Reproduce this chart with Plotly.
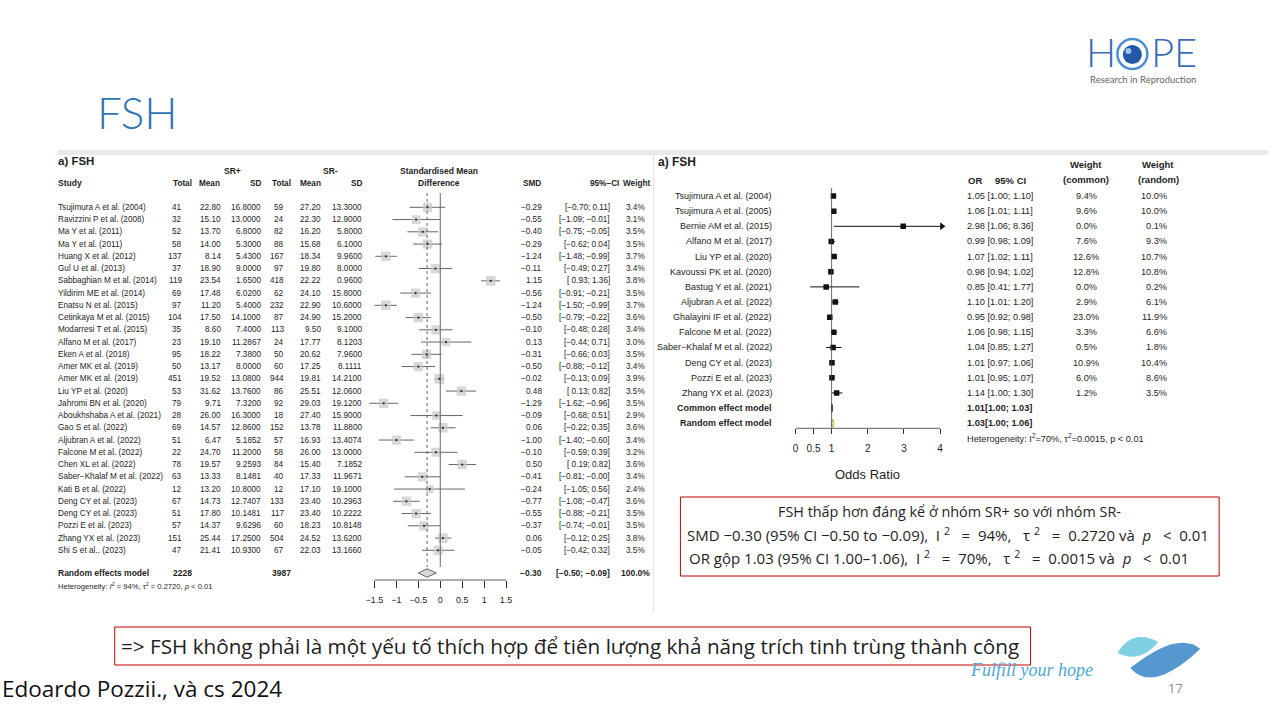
import plotly.graph_objects as go

# ---------------- data: left panel (standardised mean difference) ----------------
studies_smd = [
    "Tsujimura A et al. (2004)", "Ravizzini P et al. (2008)", "Ma Y et al. (2011)", "Ma Y et al. (2011)",
    "Huang X et al. (2012)", "Gul U et al. (2013)", "Sabbaghian M et al. (2014)", "Yildirim ME et al. (2014)",
    "Enatsu N et al. (2015)", "Cetinkaya M et al. (2015)", "Modarresi T et al. (2015)", "Alfano M et al. (2017)",
    "Eken A et al. (2018)", "Amer MK et al. (2019)", "Amer MK et al. (2019)", "Liu YP et al. (2020)",
    "Jahromi BN et al. (2020)", "Aboukhshaba A et al. (2021)", "Gao S et al. (2022)", "Aljubran A et al. (2022)",
    "Falcone M et al. (2022)", "Chen XL et al. (2022)", "Saber\u2212Khalaf M et al. (2022)", "Kati B et al. (2022)",
    "Deng CY et al. (2023)", "Deng CY et al. (2023)", "Pozzi E et al. (2023)", "Zhang YX et al. (2023)",
    "Shi S et al.. (2023)",
]
n_pos = [41, 32, 52, 58, 137, 37, 119, 69, 97, 104, 35, 23, 95, 50, 451, 53, 79, 28, 69, 51, 22, 78, 63, 12, 67, 51, 57, 151, 47]
mean_pos = [22.80, 15.10, 13.70, 14.00, 8.14, 18.90, 23.54, 17.48, 11.20, 17.50, 8.60, 19.10, 18.22, 13.17, 19.52,
            31.62, 9.71, 26.00, 14.57, 6.47, 24.70, 19.57, 13.33, 13.20, 14.73, 17.80, 14.37, 25.44, 21.41]
sd_pos = [16.8, 13.0, 6.8, 5.3, 5.43, 9.0, 1.65, 6.02, 5.4, 14.1, 7.4, 11.2867, 7.38, 8.0, 13.08,
          13.76, 7.32, 16.3, 12.86, 5.1852, 11.2, 9.2593, 8.1481, 10.8, 12.7407, 10.1481, 9.6296, 17.25, 10.93]
n_neg = [59, 24, 82, 88, 167, 97, 418, 62, 232, 87, 113, 24, 50, 60, 944, 86, 92, 18, 152, 57, 58, 84, 40, 12, 133, 117, 60, 504, 67]
mean_neg = [27.20, 22.30, 16.20, 15.68, 18.34, 19.80, 22.22, 24.10, 22.90, 24.90, 9.50, 17.77, 20.62, 17.25, 19.81,
            25.51, 29.03, 27.40, 13.78, 16.93, 26.00, 15.40, 17.33, 17.10, 23.40, 23.40, 18.23, 24.52, 22.03]
sd_neg = [13.3, 12.9, 5.8, 6.1, 9.96, 8.0, 0.96, 15.8, 10.6, 15.2, 9.1, 8.1203, 7.96, 8.1111, 14.21,
          12.06, 19.12, 15.9, 11.88, 13.4074, 13.0, 7.1852, 11.9671, 19.1, 10.2963, 10.2222, 10.8148, 13.62, 13.166]
smd = [-0.29, -0.55, -0.40, -0.29, -1.24, -0.11, 1.15, -0.56, -1.24, -0.50, -0.10, 0.13, -0.31, -0.50, -0.02,
       0.48, -1.29, -0.09, 0.06, -1.00, -0.10, 0.50, -0.41, -0.24, -0.77, -0.55, -0.37, 0.06, -0.05]
smd_lo = [-0.70, -1.09, -0.75, -0.62, -1.48, -0.49, 0.93, -0.91, -1.50, -0.79, -0.48, -0.44, -0.66, -0.88, -0.13,
          0.13, -1.62, -0.68, -0.22, -1.40, -0.59, 0.19, -0.81, -1.05, -1.08, -0.88, -0.74, -0.12, -0.42]
smd_hi = [0.11, -0.01, -0.05, 0.04, -0.99, 0.27, 1.36, -0.21, -0.99, -0.22, 0.28, 0.71, 0.03, -0.12, 0.09,
          0.82, -0.96, 0.51, 0.35, -0.60, 0.39, 0.82, -0.0, 0.56, -0.47, -0.21, -0.01, 0.25, 0.32]
smd_weight = [3.4, 3.1, 3.5, 3.5, 3.7, 3.4, 3.8, 3.5, 3.7, 3.6, 3.4, 3.0, 3.5, 3.4, 3.9,
              3.5, 3.5, 2.9, 3.6, 3.4, 3.2, 3.6, 3.4, 2.4, 3.6, 3.5, 3.5, 3.8, 3.5]
smd_pooled = [-0.30, -0.50, -0.09]     # estimate, lower, upper
smd_pooled_weight = 100.0
total_pos, total_neg = 2228, 3987
smd_ticks = [-1.5, -1, -0.5, 0, 0.5, 1, 1.5]

# ---------------- data: right panel (odds ratio) ----------------
studies_or = [
    "Tsujimura A et al. (2004)", "Tsujimura A et al. (2005)", "Bernie AM et al. (2015)", "Alfano M et al. (2017)",
    "Liu YP et al. (2020)", "Kavoussi PK et al. (2020)", "Bastug Y et al. (2021)", "Aljubran A et al. (2022)",
    "Ghalayini IF et al. (2022)", "Falcone M et al. (2022)", "Saber\u2212Khalaf M et al. (2022)",
    "Deng CY et al. (2023)", "Pozzi E et al. (2023)", "Zhang YX et al. (2023)",
]
or_est = [1.05, 1.06, 2.98, 0.99, 1.07, 0.98, 0.85, 1.10, 0.95, 1.06, 1.04, 1.01, 1.01, 1.14]
or_lo = [1.00, 1.01, 1.06, 0.98, 1.02, 0.94, 0.41, 1.01, 0.92, 0.98, 0.85, 0.97, 0.95, 1.00]
or_hi = [1.10, 1.11, 8.36, 1.09, 1.11, 1.02, 1.77, 1.20, 0.98, 1.15, 1.27, 1.06, 1.07, 1.30]
w_common = [9.4, 9.6, 0.0, 7.6, 12.6, 12.8, 0.0, 2.9, 23.0, 3.3, 0.5, 10.9, 6.0, 1.2]
w_random = [10.0, 10.0, 0.1, 9.3, 10.7, 10.8, 0.2, 6.1, 11.9, 6.6, 1.8, 10.4, 8.6, 3.5]
or_common = [1.01, 1.00, 1.03]
or_random = [1.03, 1.00, 1.06]
or_ticks = [0, 0.5, 1, 2, 3, 4]

# ---------------- layout constants (pixels) ----------------
W, H = 1280, 720
TAB = "Liberation Sans, Arial, sans-serif"
SLIDE = "Open Sans, Noto Sans, sans-serif"
TXT = "#1e1e1e"
NB = "&nbsp;"

L_ROW0, L_DY = 207.3, 12.25
L_TOP, L_BOT = 193.0, 580.0
L_X0, L_PXU, L_XR = 438.3, 44.0, [-2.0, 2.0]
L_POOL_PX = 573.0

R_ROW0, R_DY = 196.0, 15.15
R_TOP, R_BOT = 188.0, 428.3
R_X0, R_PXU, R_XR = 794.3, 36.25, [0.0, 4.2]
R_CAP = 4.05
R_COMMON_ROW, R_RANDOM_ROW = 14, 15


def fx(x):
    return x / W


def fy(y):
    return 1 - y / H


def lrow(i):
    return L_ROW0 + L_DY * i


def rrow(i):
    return R_ROW0 + R_DY * i


def mfmt(v, d=2):
    return f"{v:.{d}f}".replace("-", "\u2212")


annotations = []


def ann(text, x, y, size, xanchor="left", bold=False, color=TXT, family=TAB, italic=False, weight=None, dx=-3,
        height=None):
    f = dict(size=size, color=color, family=family)
    if weight is not None:
        f["weight"] = weight
    if italic:
        f["style"] = "italic"
    if bold:
        text = f"<b>{text}</b>"
    if xanchor == "left":
        x = x + dx
    a = dict(text=text, x=fx(x), y=fy(y), xref="paper", yref="paper",
             xanchor=xanchor, yanchor="middle", showarrow=False, font=f, borderpad=0)
    if height is not None:
        a["height"] = height
    annotations.append(a)


fig = go.Figure()

# ---------------- left forest plot marks ----------------
lx, ly = [], []
for i in range(len(studies_smd)):
    lx += [smd_lo[i], smd_hi[i], None]
    ly += [i, i, None]
fig.add_trace(go.Scatter(x=lx, y=ly, mode="lines", line=dict(color="#555", width=0.9),
                         xaxis="x", yaxis="y", hoverinfo="skip", showlegend=False))
fig.add_trace(go.Scatter(x=smd, y=list(range(len(smd))), mode="markers",
                         marker=dict(symbol="square", color="#c8c8c8",
                                     size=[9.8 * (w / 3.9) ** 0.5 for w in smd_weight], line=dict(width=0)),
                         xaxis="x", yaxis="y", showlegend=False))
fig.add_trace(go.Scatter(x=smd, y=list(range(len(smd))), mode="markers",
                         marker=dict(symbol="circle", color="#222", size=2.2),
                         xaxis="x", yaxis="y", showlegend=False))
pool_row = (L_POOL_PX - L_ROW0) / L_DY
dh = 4.2 / L_DY
fig.add_trace(go.Scatter(x=[smd_pooled[1], smd_pooled[0], smd_pooled[2], smd_pooled[0], smd_pooled[1]],
                         y=[pool_row, pool_row - dh, pool_row, pool_row + dh, pool_row],
                         mode="lines", fill="toself", fillcolor="#d9d9d9", line=dict(color="#555", width=0.9),
                         xaxis="x", yaxis="y", showlegend=False))

# ---------------- right forest plot marks ----------------
rx, ry, arx, ary = [], [], [], []
for i in range(len(studies_or)):
    rx += [or_lo[i], min(or_hi[i], R_CAP), None]
    ry += [i, i, None]
    if or_hi[i] > R_CAP:
        arx.append(R_CAP)
        ary.append(i)
fig.add_trace(go.Scatter(x=rx, y=ry, mode="lines", line=dict(color="#111", width=1),
                         xaxis="x2", yaxis="y2", showlegend=False))
fig.add_trace(go.Scatter(x=arx, y=ary, mode="markers", marker=dict(symbol="triangle-right", size=7, color="#111"),
                         xaxis="x2", yaxis="y2", showlegend=False))
fig.add_trace(go.Scatter(x=or_est, y=list(range(len(or_est))), mode="markers",
                         marker=dict(symbol="square", size=5.5, color="#111"),
                         xaxis="x2", yaxis="y2", showlegend=False))
rdh = 4.0 / R_DY
for vals, row, fc, lc in [(or_common, R_COMMON_ROW, "#555", "#444"), (or_random, R_RANDOM_ROW, "rgba(0,0,0,0)", "#b5b43a")]:
    fig.add_trace(go.Scatter(x=[vals[1], vals[0], vals[2], vals[0], vals[1]],
                             y=[row, row - rdh, row, row + rdh, row],
                             mode="lines", fill="toself", fillcolor=fc, line=dict(color=lc, width=1),
                             xaxis="x2", yaxis="y2", showlegend=False))

# ---------------- axes ----------------
def ydom(top, bot):
    return [fy(bot), fy(top)]


fig.update_layout(
    xaxis=dict(domain=[fx(L_X0 + L_XR[0] * L_PXU), fx(L_X0 + L_XR[1] * L_PXU)], range=L_XR,
               showgrid=False, zeroline=False, showline=False, ticks="outside", ticklen=7, tickwidth=0.8,
               tickcolor="#333", tickmode="array", tickvals=smd_ticks,
               ticktext=[mfmt(t, 1 if t % 1 else 0) for t in smd_ticks],
               tickfont=dict(family=TAB, size=9, color=TXT), ticklabelstandoff=4, anchor="y", fixedrange=True),
    yaxis=dict(domain=ydom(L_TOP, L_BOT), range=[(L_BOT - L_ROW0) / L_DY, (L_TOP - L_ROW0) / L_DY],
               visible=False, anchor="x", fixedrange=True),
    xaxis2=dict(domain=[fx(R_X0 + R_XR[0] * R_PXU), fx(R_X0 + R_XR[1] * R_PXU)], range=R_XR,
                showgrid=False, zeroline=False, showline=False, ticks="outside", ticklen=5, tickwidth=0.8,
                tickcolor="#333", tickmode="array", tickvals=or_ticks,
                ticktext=[f"{t:g}" for t in or_ticks],
                tickfont=dict(family=TAB, size=10, color=TXT), ticklabelstandoff=6, anchor="y2", fixedrange=True),
    yaxis2=dict(domain=ydom(R_TOP, R_BOT), range=[(R_BOT - R_ROW0) / R_DY, (R_TOP - R_ROW0) / R_DY],
                visible=False, anchor="x2", fixedrange=True),
)

shapes = []
# axis lines
shapes.append(dict(type="line", xref="x", yref="y domain", x0=smd_ticks[0], x1=smd_ticks[-1], y0=0, y1=0,
                   line=dict(color="#333", width=0.8)))
shapes.append(dict(type="line", xref="x2", yref="y2 domain", x0=or_ticks[0], x1=or_ticks[-1], y0=0, y1=0,
                   line=dict(color="#333", width=0.8)))
# reference lines
lend = (567 - L_ROW0) / L_DY
shapes.append(dict(type="line", xref="x", yref="y", x0=0, x1=0, y0=(L_TOP - L_ROW0) / L_DY, y1=lend,
                   line=dict(color="#666", width=1)))
shapes.append(dict(type="line", xref="x", yref="y", x0=smd_pooled[0], x1=smd_pooled[0],
                   y0=(L_TOP - L_ROW0) / L_DY, y1=lend, line=dict(color="#555", width=0.9, dash="dot")))
shapes.append(dict(type="line", xref="x2", yref="y2 domain", x0=1, x1=1, y0=0, y1=1,
                   line=dict(color="#444", width=0.8)))

# panel frame hints
shapes.append(dict(type="rect", xref="paper", yref="paper", x0=fx(55), x1=fx(1268), y0=fy(155), y1=fy(150),
                   fillcolor="#e9e9e9", line=dict(width=0), layer="below"))
shapes.append(dict(type="line", xref="paper", yref="paper", x0=fx(652), x1=fx(652), y0=fy(150), y1=fy(612),
                   line=dict(color="#e4e4e4", width=1)))

# text boxes
shapes.append(dict(type="rect", xref="paper", yref="paper", x0=fx(679), x1=fx(1219), y0=fy(576), y1=fy(497),
                   line=dict(color="#c00000", width=1), fillcolor="rgba(0,0,0,0)"))
shapes.append(dict(type="rect", xref="paper", yref="paper", x0=fx(112), x1=fx(1030), y0=fy(665), y1=fy(627),
                   line=dict(color="#c00000", width=1), fillcolor="rgba(0,0,0,0)"))


def P(x, y):
    return f"{fx(x):.5f},{fy(y):.5f}"


# leaves logo
shapes.append(dict(type="path", xref="paper", yref="paper",
                   path=f"M{P(1117,653)} Q{P(1132,628)} {P(1158,642)} Q{P(1140,664)} {P(1117,653)} Z",
                   fillcolor="#7fd0e3", line=dict(width=0)))
shapes.append(dict(type="path", xref="paper", yref="paper",
                   path=f"M{P(1130,668)} Q{P(1178,630)} {P(1200,649)} Q{P(1152,694)} {P(1130,668)} Z",
                   fillcolor="#5597cf", line=dict(width=0)))
# HOPE eye
shapes.append(dict(type="circle", xref="paper", yref="paper", x0=fx(1117), x1=fx(1147), y0=fy(69), y1=fy(39),
                   line=dict(color="#4a8fd3", width=2.5), fillcolor="white"))
shapes.append(dict(type="circle", xref="paper", yref="paper", x0=fx(1122.5), x1=fx(1141.5), y0=fy(64), y1=fy(45),
                   line=dict(width=0), fillcolor="#2357a8"))
shapes.append(dict(type="circle", xref="paper", yref="paper", x0=fx(1125), x1=fx(1131), y0=fy(54), y1=fy(48),
                   line=dict(width=0), fillcolor="#9cc6ee"))

# ---------------- left table text ----------------
ann("a) FSH", 57, 161, 11.5, bold=True)
ann("SR+", 230, 171, 8.5, "center", bold=True)
ann("SR-", 328, 171, 8.5, "center", bold=True)
ann("Standardised Mean", 437, 171, 8.5, "center", bold=True)
ann("Difference", 437, 183, 8.5, "center", bold=True)
ann("Study", 57, 183, 8.5, bold=True)
for t, x, a in [("Total", 190, "right"), ("Mean", 219, "right"), ("SD", 260, "right"),
                ("Total", 290, "right"), ("Mean", 320, "right"), ("SD", 361, "right"),
                ("SMD", 530, "center"), ("95%\u2212CI", 618, "right"), ("Weight", 650, "right")]:
    ann(t, x, 183, 8.2, a, bold=True)

for i, name in enumerate(studies_smd):
    y = lrow(i)
    ann(name, 57, y, 8.2)
    ann(str(n_pos[i]), 180, y, 8.2, "right")
    ann(f"{mean_pos[i]:.2f}", 219.5, y, 8.2, "right")
    ann(f"{sd_pos[i]:.4f}", 260, y, 8.2, "right")
    ann(str(n_neg[i]), 283, y, 8.2, "right")
    ann(f"{mean_neg[i]:.2f}", 319.5, y, 8.2, "right")
    ann(f"{sd_neg[i]:.4f}", 361, y, 8.2, "right")
    ann(mfmt(smd[i]), 541, y, 8.2, "right")
    lo_s = mfmt(smd_lo[i]) if smd_lo[i] < 0 else NB + mfmt(smd_lo[i])
    ann(f"[{lo_s}; {mfmt(smd_hi[i])}]", 609.5, y, 8.2, "right")
    ann(f"{smd_weight[i]:.1f}%", 645, y, 8.2, "right")

ann("Random effects model", 57, L_POOL_PX, 8.5, bold=True)
ann(str(total_pos), 190, L_POOL_PX, 8.5, "right", bold=True)
ann(str(total_neg), 290, L_POOL_PX, 8.5, "right", bold=True)
ann(mfmt(smd_pooled[0]), 541, L_POOL_PX, 8.5, "right", bold=True)
ann(f"[{mfmt(smd_pooled[1])}; {mfmt(smd_pooled[2])}]", 609.5, L_POOL_PX, 8.5, "right", bold=True)
ann(f"{smd_pooled_weight:.1f}%", 650, L_POOL_PX, 8.5, "right", bold=True)
ann("Heterogeneity: <i>I</i><sup>2</sup> = 94%, \u03c4<sup>2</sup> = 0.2720, <i>p</i> &lt; 0.01", 57, 586, 7.6)

# ---------------- right table text ----------------
RS = 9.0
ann("a) FSH", 659, 162, 12, bold=True)
ann("OR", 974, 180, 9.5, "center", bold=True)
ann("95% CI", 1010, 180, 9.5, "center", bold=True)
ann("Weight", 1086, 165, 9.5, "center", bold=True)
ann("(common)", 1086, 179, 9.5, "center", bold=True)
ann("Weight", 1158, 165, 9.5, "center", bold=True)
ann("(random)", 1158, 179, 9.5, "center", bold=True)
for i, name in enumerate(studies_or):
    y = rrow(i)
    ann(name, 772, y, RS, "right")
    ann(f"{or_est[i]:.2f} [{or_lo[i]:.2f}; {or_hi[i]:.2f}]", 968, y, 9.2)
    ann(f"{w_common[i]:.1f}%", 1086, y, 9.2, "center")
    ann(f"{w_random[i]:.1f}%", 1168, y, 9.2, "right")
ann("Common effect model", 772, rrow(R_COMMON_ROW), RS, "right", bold=True)
ann("Random effect model", 772, rrow(R_RANDOM_ROW), RS, "right", bold=True)
ann(f"{or_common[0]:.2f}[{or_common[1]:.2f}; {or_common[2]:.2f}]", 968, rrow(R_COMMON_ROW), 9.2, bold=True)
ann(f"{or_random[0]:.2f}[{or_random[1]:.2f}; {or_random[2]:.2f}]", 968, rrow(R_RANDOM_ROW), 9.2, bold=True)
ann("Heterogeneity: I<sup>2</sup>=70%, \u03c4<sup>2</sup>=0.0015, p &lt; 0.01", 968, 438, 9.2)
ann("Odds Ratio", 867, 474, 13, "center")

# ---------------- slide text ----------------
ann("FSH", 100, 112, 44, family="Lato, Open Sans, sans-serif", color="#2e75b6", weight=300, dx=-7)
ann("H", 1101, 52, 40, "center", family="Lato, sans-serif", color="#3a6db5", weight=300, height=32)
ann("PE", 1174, 52, 40, "center", family="Lato, sans-serif", color="#3a6db5", weight=300, height=32)
ann("Research in Reproduction", 1143, 79, 9.5, "center", family="Lato, Open Sans, sans-serif", color="#666")

BOX1, BOX2 = 14.4, 15.0
ann("FSH thấp hơn đáng kể ở nhóm SR+ so với nhóm SR-", 949, 511, BOX1, "center", family=SLIDE)
ann(f"SMD \u22120.30 (95% CI \u22120.50 to \u22120.09),{NB*2}I{NB}<sup>2</sup>{NB*3}={NB*2}94%,{NB*3}\u03c4{NB}<sup>2</sup>{NB*3}={NB*2}0.2720 và{NB*2}<i>p</i>{NB*3}&lt;{NB*2}0.01",
    947, 534, BOX2, "center", family=SLIDE)
ann(f"OR gộp 1.03 (95% CI 1.00\u20131.06),{NB*2}I{NB}<sup>2</sup>{NB*3}={NB*2}70%,{NB*3}\u03c4{NB}<sup>2</sup>{NB*3}={NB*2}0.0015 và{NB*2}<i>p</i>{NB*3}&lt;{NB*2}0.01",
    938, 557, BOX2, "center", family=SLIDE)

ann("=> FSH không phải là một yếu tố thích hợp để tiên lượng khả năng trích tinh trùng thành công",
    120, 646, 20.7, family=SLIDE)
ann("Edoardo Pozzii., và cs 2024", 2, 688, 22.5, family=SLIDE, color="#111", dx=-4)
ann("Fulfill your hope", 1031, 670, 18, "center", family="Liberation Serif, serif", color="#4fa6d6", italic=True)
ann("17", 1175, 688, 13, "center", family=SLIDE, color="#8c8c8c")

fig.update_layout(
    width=W, height=H, autosize=False,
    margin=dict(l=0, r=0, t=0, b=0),
    paper_bgcolor="white", plot_bgcolor="rgba(0,0,0,0)",
    showlegend=False, annotations=annotations, shapes=shapes,
)

fig.write_html("out.html", config={"displayModeBar": False},
               post_script="document.body.style.margin='0';document.body.style.overflow='hidden';")
